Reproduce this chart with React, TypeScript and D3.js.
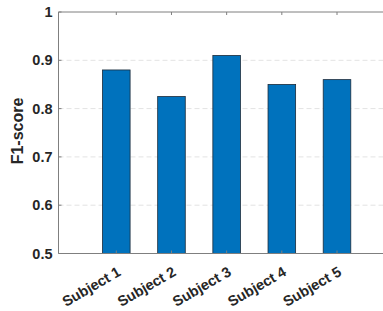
import * as d3 from "d3";

const subjects = ["Subject 1", "Subject 2", "Subject 3", "Subject 4", "Subject 5"];
const f1Scores = [0.88, 0.825, 0.91, 0.85, 0.86];
const yTicks = [0.5, 0.6, 0.7, 0.8, 0.9, 1];

const W = 383;
const H = 311;
const left = 58.5;
const top = 12;
const bottom = 253.5;

export default function App() {
  const x = d3.scaleLinear().domain([1, 5]).range([116.3, 337]);
  const y = d3.scaleLinear().domain([0.5, 1]).range([bottom, top]);
  const barW = (x(2) - x(1)) * 0.5;
  const font = "'Liberation Sans', Arial, sans-serif";
  const axisColor = "#7f7f7f";
  const textColor = "#262626";

  return (
    <div style={{ position: "absolute", left: 0, top: 0 }}>
      <svg width={W} height={H} style={{ display: "block", background: "#fff" }}>
        {/* grid */}
        {yTicks.slice(1, -1).map((t) => (
          <line
            key={"g" + t}
            x1={left}
            x2={W}
            y1={y(t)}
            y2={y(t)}
            stroke="#e3e3e3"
            strokeWidth={1}
            strokeDasharray="5,3"
          />
        ))}

        {/* bars */}
        {f1Scores.map((v, i) => (
          <rect
            key={subjects[i]}
            x={x(i + 1) - barW / 2}
            y={y(v)}
            width={barW}
            height={y(0.5) - y(v)}
            fill="#0072BD"
            stroke="#1c2b3a"
            strokeWidth={0.8}
          />
        ))}

        {/* axes box (left, top, bottom) */}
        <line x1={left} x2={left} y1={top} y2={bottom} stroke={axisColor} strokeWidth={1} />
        <line x1={left} x2={W} y1={top} y2={top} stroke={axisColor} strokeWidth={1} />
        <line x1={left} x2={W} y1={bottom} y2={bottom} stroke={axisColor} strokeWidth={1} />

        {/* x ticks top and bottom */}
        {subjects.map((s, i) => (
          <g key={"t" + s}>
            <line x1={x(i + 1)} x2={x(i + 1)} y1={top} y2={top + 3} stroke={axisColor} />
            <line x1={x(i + 1)} x2={x(i + 1)} y1={bottom} y2={bottom - 3} stroke={axisColor} />
          </g>
        ))}

        {/* y ticks + labels */}
        {yTicks.map((t) => (
          <g key={"y" + t}>
            <line x1={left} x2={left + 3} y1={y(t)} y2={y(t)} stroke={axisColor} />
            <text
              x={left - 6}
              y={y(t)}
              textAnchor="end"
              dominantBaseline="central"
              fontFamily={font}
              fontWeight="bold"
              fontSize={14.5}
              fill={textColor}
            >
              {d3.format("")(t)}
            </text>
          </g>
        ))}

        {/* x labels */}
        {subjects.map((s, i) => (
          <text
            key={"l" + s}
            transform={`translate(${x(i + 1) + 3},${bottom + 17}) rotate(-30)`}
            textAnchor="end"
            dominantBaseline="central"
            fontFamily={font}
            fontWeight="bold"
            fontSize={14.5}
            fill={textColor}
          >
            {s}
          </text>
        ))}

        {/* y label */}
        <text
          transform={`translate(23,131) rotate(-90)`}
          textAnchor="middle"
          fontFamily={font}
          fontWeight="bold"
          fontSize={16}
          fill={textColor}
        >
          F1-score
        </text>
      </svg>
    </div>
  );
}
